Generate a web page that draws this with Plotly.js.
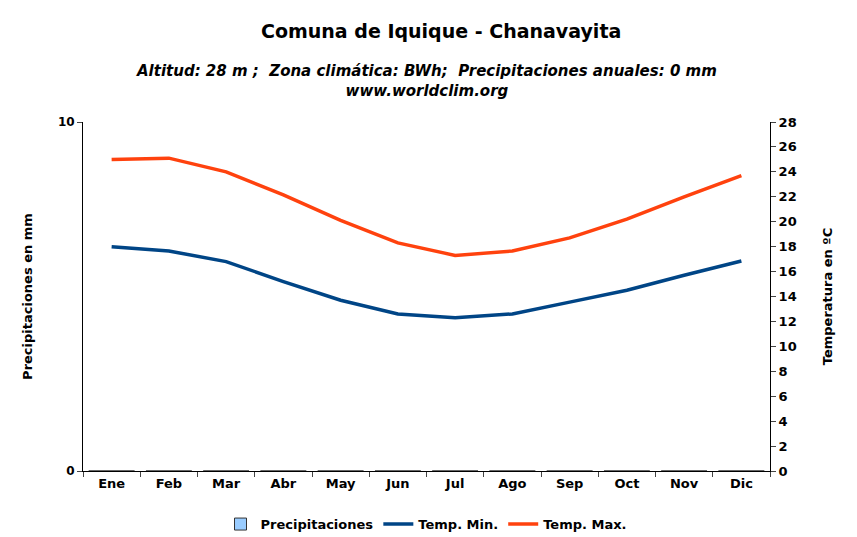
<!DOCTYPE html>
<html>
<head>
<meta charset="utf-8">
<script src="https://cdn.plot.ly/plotly-3.0.1.min.js"></script>
<style>body{margin:0;background:#fff}#chart{width:857px;height:537px}</style>
</head>
<body>
<div id="chart"></div>
<script>
const months = ['Ene','Feb','Mar','Abr','May','Jun','Jul','Ago','Sep','Oct','Nov','Dic'];
const precip = [0,0,0,0,0,0,0,0,0,0,0,0];
const tMin = [18.0,17.65,16.8,15.2,13.7,12.6,12.3,12.6,13.55,14.5,15.7,16.85];
const tMax = [25.0,25.1,24.0,22.15,20.1,18.3,17.3,17.65,18.7,20.2,22.0,23.7];

const traces = [
  {
    x: months, y: precip, type: 'bar', name: 'Precipitaciones',
    marker: { color: '#99ccff', line: { color: '#333333', width: 1 } },
    width: 0.8, yaxis: 'y'
  },
  {
    x: months, y: tMin, type: 'scatter', mode: 'lines', name: 'Temp. Min.',
    line: { color: '#004586', width: 3.5 }, yaxis: 'y2'
  },
  {
    x: months, y: tMax, type: 'scatter', mode: 'lines', name: 'Temp. Max.',
    line: { color: '#ff420e', width: 3.5 }, yaxis: 'y2'
  }
];

const font = { family: 'DejaVu Sans', color: '#000' };

const layout = {
  width: 857, height: 537,
  paper_bgcolor: '#fff', plot_bgcolor: '#fff',
  font: Object.assign({ size: 12 }, font),
  margin: { l: 83, r: 87, t: 122, b: 66, autoexpand: false },
  showlegend: true,
  legend: { orientation: 'h', x: 0.5, xanchor: 'center', yref: 'container', y: 0.024, yanchor: 'middle',
    font: { size: 13, family: 'DejaVu Sans', weight: 'bold' } },
  annotations: [
    { text: '<b>Comuna de Iquique - Chanavayita</b>', xref: 'paper', yref: 'paper',
      x: 0.5, y: 1, xanchor: 'center', yanchor: 'bottom', yshift: 78, xshift: 14, showarrow: false,
      font: { size: 19, family: 'DejaVu Sans' } },
    { text: '<b><i>Altitud: 28 m ;  Zona climática: BWh;  Precipitaciones anuales: 0 mm<br>www.worldclim.org</i></b>',
      xref: 'paper', yref: 'paper', x: 0.5, y: 1, xanchor: 'center', yanchor: 'bottom', yshift: 20,
      showarrow: false, font: { size: 15, family: 'DejaVu Sans' } }
  ],
  xaxis: {
    automargin: false,
    showline: true, linecolor: '#000', ticks: 'outside', tickson: 'boundaries', ticklen: 5,
    tickfont: { size: 13, family: 'DejaVu Sans', weight: 'bold' }, showgrid: false
  },
  yaxis: {
    automargin: false,
    range: [0, 10], tickvals: [0, 10], showline: true, linecolor: '#000', ticks: 'outside',
    ticklen: 5, showgrid: false, zeroline: false,
    tickfont: { size: 12, family: 'DejaVu Sans', weight: 'bold' },
    title: { text: '<b>Precipitaciones en mm</b>', font: { size: 13 }, standoff: 22 }
  },
  yaxis2: {
    automargin: false,
    range: [0, 28], dtick: 2, overlaying: 'y', side: 'right', showline: true, linecolor: '#000',
    ticks: 'outside', ticklen: 5, showgrid: false, zeroline: false,
    tickfont: { size: 13, family: 'DejaVu Sans', weight: 'bold' },
    title: { text: '<b>Temperatura en ºC</b>', font: { size: 13 }, standoff: 27 }
  }
};

Plotly.newPlot('chart', traces, layout, { displayModeBar: false, staticPlot: true });
</script>
</body>
</html>
